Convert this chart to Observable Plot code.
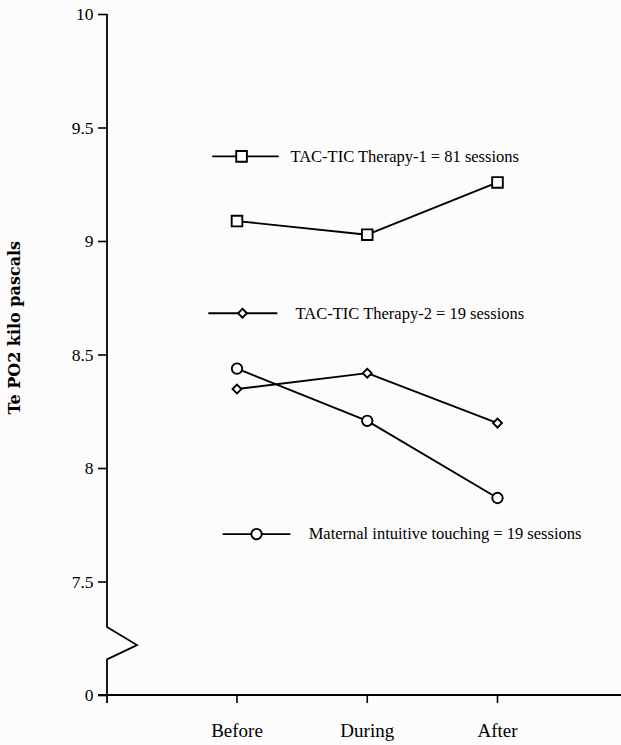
<!DOCTYPE html>
<html><head><meta charset="utf-8">
<script src="https://cdn.jsdelivr.net/npm/d3@7"></script>
<script src="https://cdn.jsdelivr.net/npm/@observablehq/plot@0.6"></script>
<style>
body{margin:0;background:#fcfcfc;}
#chart svg{display:block;}
</style>
</head><body><div id="chart"></div>
<script>
// ---- data ----
const phases = ["Before", "During", "After"];
const therapy1 = [9.09, 9.03, 9.26];
const therapy2 = [8.35, 8.42, 8.20];
const maternal = [8.44, 8.21, 7.87];
const seriesNames = [
  "TAC-TIC Therapy-1 = 81 sessions",
  "TAC-TIC Therapy-2 = 19 sessions",
  "Maternal intuitive touching = 19 sessions"
];
const seriesSymbols = ["square", "diamond2", "circle"];
const yTicks = [7, 7.5, 8, 8.5, 9, 9.5, 10];
const yTickLabels = ["0", "7.5", "8", "8.5", "9", "9.5", "10"];
const yLabel = "Te PO2 kilo pascals";

// ---- layout (not data) ----
const legendLayout = [
  {x1: -0.19, x2: 0.32, xm: 0.035, xt: 0.41, y: 9.375, r: 6.0},
  {x1: -0.22, x2: 0.31, xm: 0.042, xt: 0.45, y: 8.684, r: 4.0},
  {x1: -0.11, x2: 0.41, xm: 0.150, xt: 0.55, y: 7.711, r: 5.2}
];
const markerR = [6.0, 4.0, 5.2];
const axisBreak = [7.30, 7.22, 7.157];

const allSeries = [therapy1, therapy2, maternal];
const rows = allSeries.flatMap((vals, s) => vals.map((v, i) => ({x: i, y: v, s})));
const legendRows = legendLayout.map((d, s) => ({...d, s, name: seriesNames[s], sym: seriesSymbols[s]}));

const serif = "'Liberation Serif', 'DejaVu Serif', serif";

function axisLines(index, scales, values, dims) {
  const ax = dims.marginLeft;
  const y0 = scales.y(7);
  const g = d3.create("svg:g").attr("stroke", "black").attr("stroke-width", 1.8).attr("fill", "none");
  g.append("path").attr("d", d3.line()([
    [ax, scales.y(10)], [ax, scales.y(axisBreak[0])], [ax + 30, scales.y(axisBreak[1])],
    [ax, scales.y(axisBreak[2])], [ax, y0 + 8]
  ]));
  g.append("path").attr("d", `M${ax - 9},${y0}H${dims.width}`);
  return g.node();
}

const plot = Plot.plot({
  width: 621,
  height: 745,
  marginLeft: 107,
  marginRight: 0,
  marginTop: 14,
  marginBottom: 50,
  style: {background: "transparent", fontFamily: serif},
  x: {type: "linear", domain: [0, 2], range: [236.5, 497]},
  y: {domain: [7, 10], range: [695, 14]},
  marks: [
    Plot.axisY({ticks: yTicks, tickFormat: d => yTickLabels[yTicks.indexOf(d)], tickSize: 9, tickPadding: 5,
      fontSize: 17.5, stroke: "black", strokeWidth: 1.6, fill: "black", label: null}),
    Plot.axisX({ticks: [0, 1, 2], tickFormat: d => phases[d], tickSize: 8, tickPadding: 20,
      fontSize: 19, stroke: "black", strokeWidth: 1.6, fill: "black", label: null}),
    axisLines,
    Plot.text([yLabel], {frameAnchor: "left", dx: -93, rotate: -90, textAnchor: "middle", fontWeight: "bold",
      fontFamily: "'DejaVu Serif', serif", fontSize: 16, fill: "black", y: () => 8.62}),
    Plot.line(rows, {x: "x", y: "y", z: "s", stroke: "black", strokeWidth: 1.9}),
    ...[0, 1, 2].map(s => Plot.dot(rows.filter(d => d.s === s), {x: "x", y: "y", symbol: seriesSymbols[s],
      r: markerR[s], fill: "white", stroke: "black", strokeWidth: 1.9})),
    Plot.link(legendRows, {x1: "x1", x2: "x2", y1: "y", y2: "y", stroke: "black", strokeWidth: 1.9}),
    ...legendRows.map(d => Plot.dot([d], {x: "xm", y: "y", symbol: d.sym, r: d.r, fill: "white", stroke: "black", strokeWidth: 1.9})),
    Plot.text(legendRows, {x: "xt", y: "y", text: "name", textAnchor: "start", fontSize: 16.5, fill: "black"})
  ]
});
document.getElementById("chart").append(plot);
</script>
</body></html>
